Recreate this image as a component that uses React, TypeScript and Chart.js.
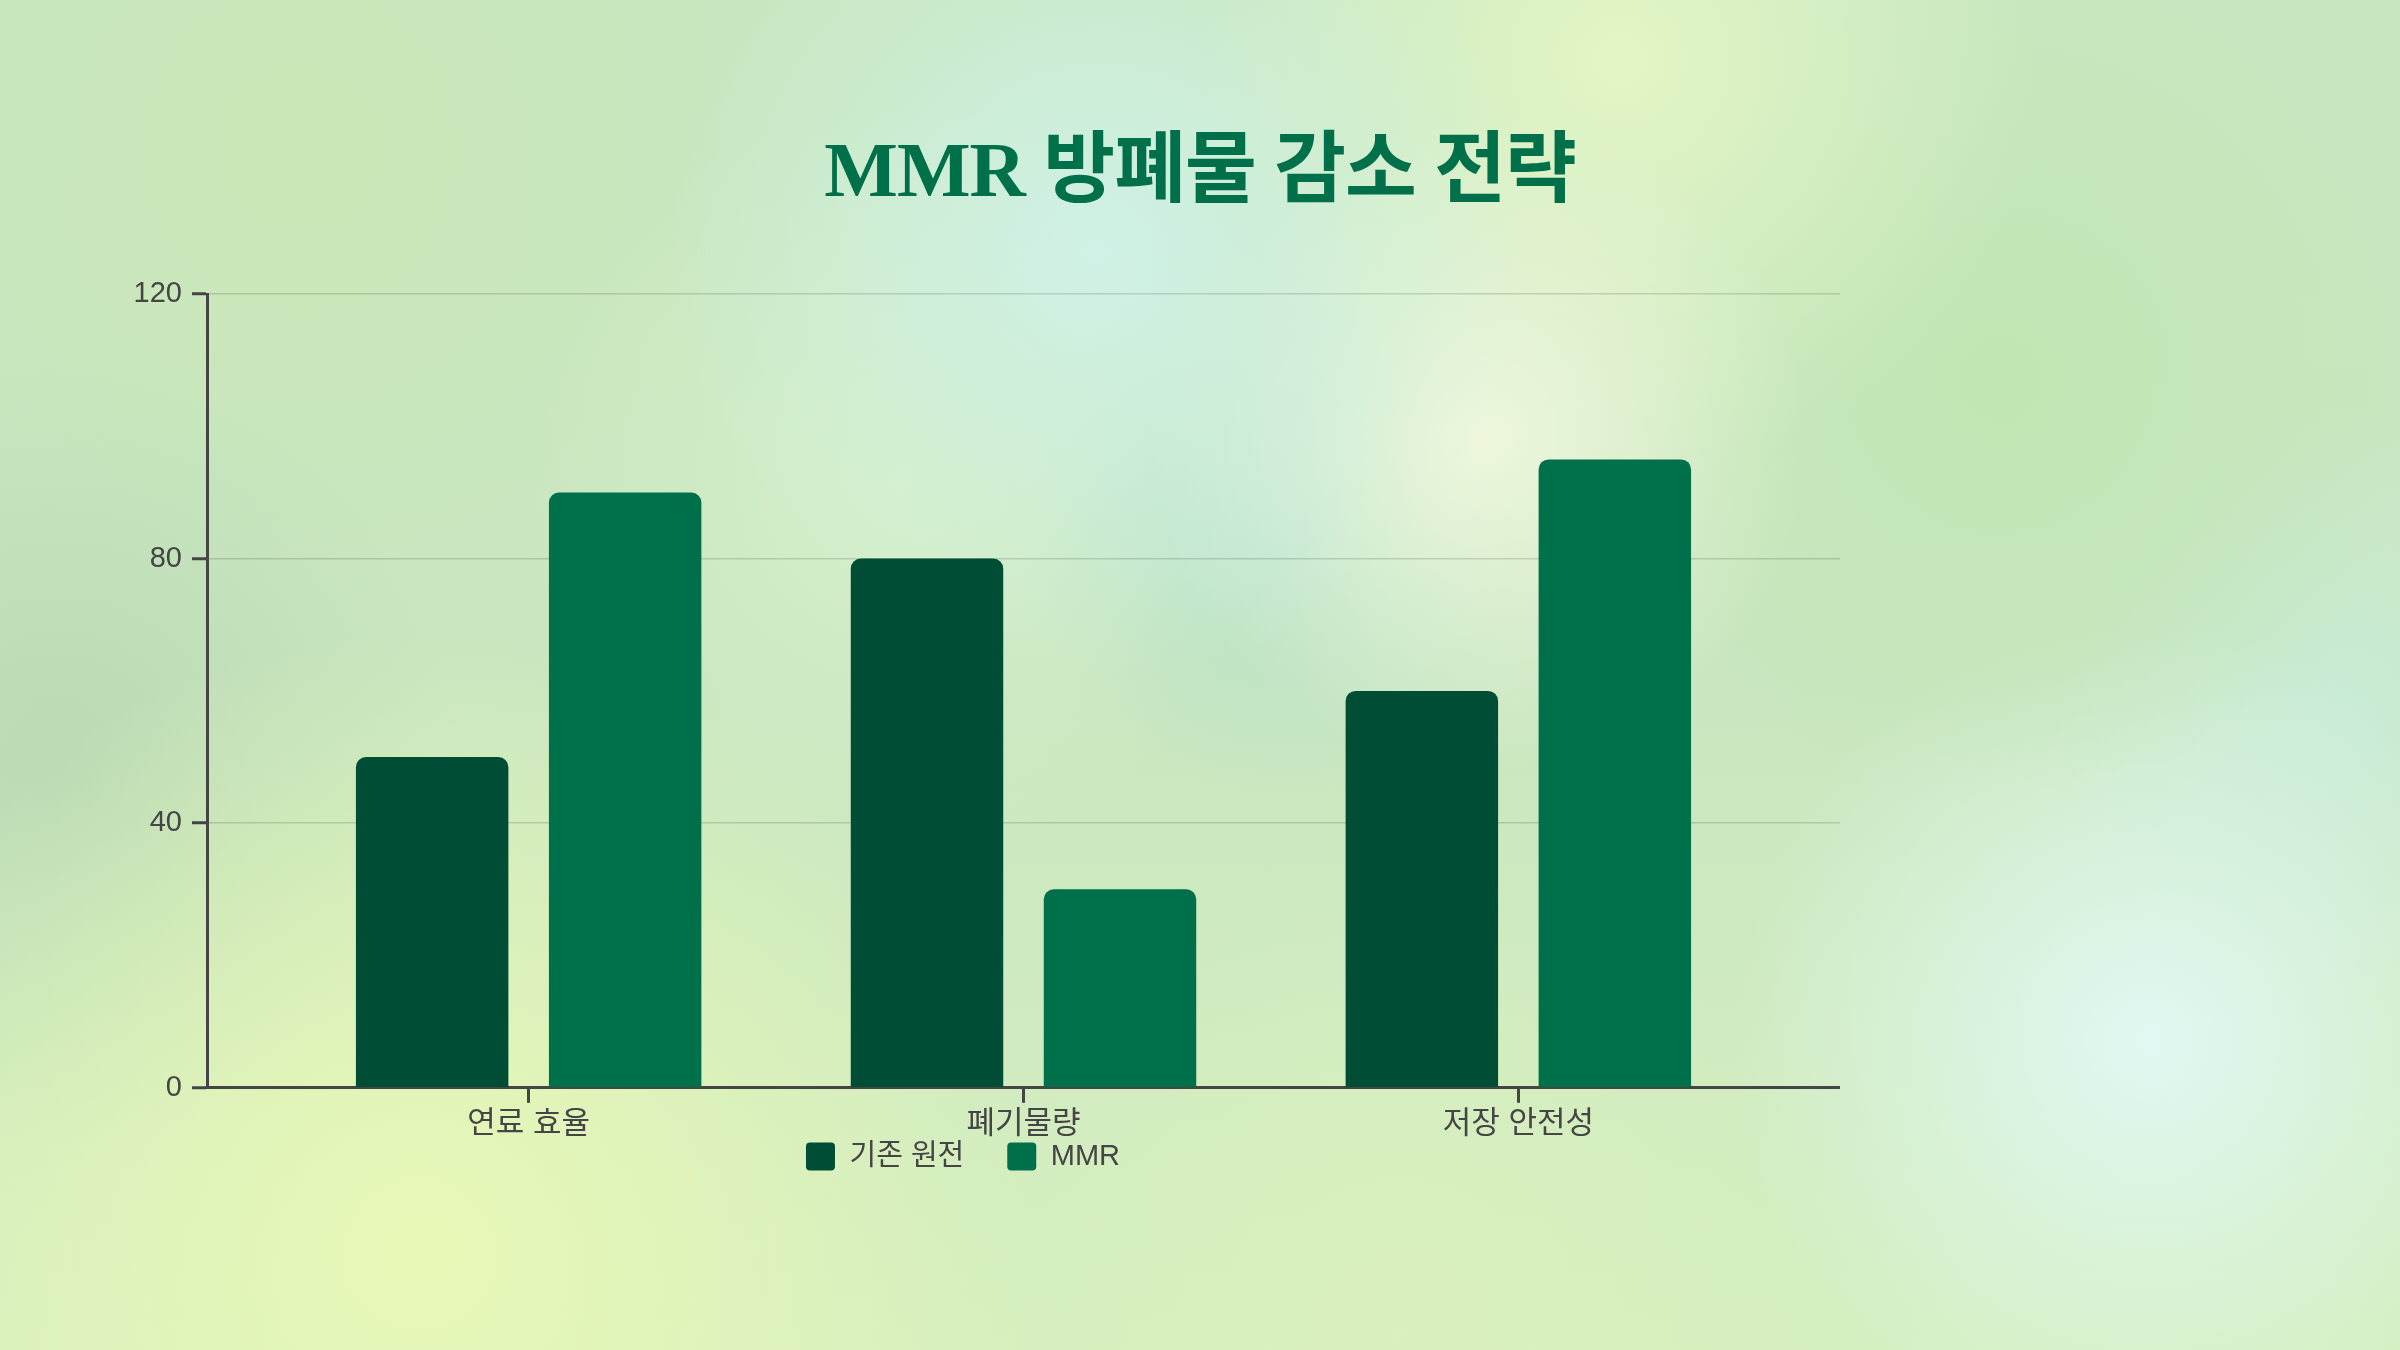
import { useEffect, useRef } from "react";
import { Chart, registerables } from "chart.js";
import type { Plugin } from "chart.js";

Chart.register(...registerables);

const categories = ["연료 효율", "폐기물량", "저장 안전성"];
const seriesNames = ["기존 원전", "MMR"];
const conventionalValues = [50, 80, 60];
const mmrValues = [90, 30, 95];
const yTickValues = [0, 40, 80, 120];

const DARK = "#004D35";
const GREEN = "#00704A";
const AXIS = "#454545";
const FONT = "'Helvetica Neue', Helvetica, Arial, 'Noto Sans CJK KR', sans-serif";

const LEGEND_GAP = 43;

const background = [
  "radial-gradient(circle at 1100px 250px, rgba(208,242,232,0.95) 0, rgba(208,242,232,0) 430px)",
  "radial-gradient(circle at 1480px 440px, rgba(240,248,222,0.95) 0, rgba(240,248,222,0) 330px)",
  "radial-gradient(circle at 1290px 540px, rgba(182,226,202,0.9) 0, rgba(182,226,202,0) 260px)",
  "radial-gradient(circle at 1620px 60px, rgba(228,246,198,0.95) 0, rgba(228,246,198,0) 420px)",
  "radial-gradient(circle at 2000px 380px, rgba(192,230,178,0.95) 0, rgba(192,230,178,0) 420px)",
  "radial-gradient(circle at 2150px 1040px, rgba(224,248,242,1) 0, rgba(224,248,242,0) 420px)",
  "radial-gradient(circle at 420px 1250px, rgba(232,248,182,1) 0, rgba(232,248,182,0) 620px)",
  "radial-gradient(circle at 1400px 1330px, rgba(218,240,190,0.95) 0, rgba(218,240,190,0) 460px)",
  "radial-gradient(circle at 900px 480px, rgba(214,240,202,0.9) 0, rgba(214,240,202,0) 380px)",
  "radial-gradient(circle at 60px 760px, rgba(186,218,180,0.95) 0, rgba(186,218,180,0) 400px)",
  "radial-gradient(circle at 300px 150px, rgba(202,232,182,0.95) 0, rgba(202,232,182,0) 450px)",
  "radial-gradient(circle at 2350px 700px, rgba(200,236,214,0.9) 0, rgba(200,236,214,0) 300px)",
  "linear-gradient(180deg, #c8e7c0 0%, #c9e6c0 50%, #d6efc0 100%)",
].join(", ");

// wide gaps between legend items, but keep the row tucked under the axis labels
const legendLift: Plugin<"bar"> = {
  id: "legendLift",
  afterLayout(chart) {
    if (chart.legend) chart.legend.top -= LEGEND_GAP + 4;
  },
};

export default function App() {
  const canvasRef = useRef<HTMLCanvasElement>(null);
  const chartRef = useRef<Chart | null>(null);

  useEffect(() => {
    if (!canvasRef.current) return;
    const ctx = canvasRef.current.getContext("2d");
    if (!ctx) return;

    if (chartRef.current) {
      chartRef.current.destroy();
      chartRef.current = null;
    }

    chartRef.current = new Chart(ctx, {
      type: "bar",
      data: {
        datasets: [
          {
            label: seriesNames[0],
            data: conventionalValues.map((v, i) => ({ x: i, y: v })),
            backgroundColor: DARK,
            borderWidth: 0,
            borderRadius: 10,
            categoryPercentage: 0.78,
            barPercentage: 0.79,
          },
          {
            label: seriesNames[1],
            data: mmrValues.map((v, i) => ({ x: i, y: v })),
            backgroundColor: GREEN,
            borderWidth: 0,
            borderRadius: 10,
            categoryPercentage: 0.78,
            barPercentage: 0.79,
          },
        ],
      },
      options: {
        responsive: true,
        maintainAspectRatio: false,
        animation: false,
        layout: { padding: { left: 0, top: 44, right: 0, bottom: 0 } },
        plugins: {
          title: { display: false },
          tooltip: { enabled: false },
          legend: {
            position: "bottom",
            labels: {
              color: AXIS,
              font: { family: FONT, size: 29 },
              boxWidth: 29,
              boxHeight: 28,
              useBorderRadius: true,
              borderRadius: 4,
              padding: LEGEND_GAP,
            },
          },
        },
        scales: {
          x: {
            type: "linear",
            min: -0.65,
            max: 2.65,
            offset: false,
            afterBuildTicks: (scale) => {
              scale.ticks = categories.map((_, i) => ({ value: i }));
            },
            grid: {
              display: true,
              offset: false,
              drawOnChartArea: false,
              drawTicks: true,
              tickLength: 15,
              tickColor: AXIS,
              tickWidth: 3,
            },
            border: { display: true, color: AXIS, width: 3 },
            ticks: {
              autoSkip: false,
              maxRotation: 0,
              padding: 3,
              color: AXIS,
              font: { family: FONT, size: 31 },
              callback: (v) => categories[Math.round(Number(v))] ?? "",
            },
          },
          y: {
            min: yTickValues[0],
            max: yTickValues[yTickValues.length - 1],
            afterBuildTicks: (scale) => {
              scale.ticks = yTickValues.map((v) => ({ value: v }));
            },
            afterFit: (scale) => {
              scale.width = 121;
            },
            grid: {
              color: "rgba(0,0,0,0.14)",
              lineWidth: 1.5,
              drawTicks: true,
              tickLength: 15,
              tickColor: AXIS,
              tickWidth: 3,
            },
            border: { display: true, color: AXIS, width: 3 },
            ticks: {
              padding: 10,
              color: AXIS,
              font: { family: FONT, size: 29 },
            },
          },
        },
      },
      plugins: [legendLift],
    });

    return () => {
      chartRef.current?.destroy();
      chartRef.current = null;
    };
  }, []);

  return (
    <div
      style={{
        position: "fixed",
        inset: 0,
        width: 2400,
        height: 1350,
        overflow: "hidden",
        background,
      }}
    >
      <div
        style={{
          position: "absolute",
          left: 0,
          right: 0,
          top: 131,
          textAlign: "center",
          fontFamily: "'Liberation Serif', 'Noto Sans CJK KR', serif",
          fontWeight: 700,
          fontSize: 78,
          lineHeight: 1,
          letterSpacing: -1,
          color: GREEN,
        }}
      >
        MMR 방폐물 감소 전략
      </div>
      <div
        style={{
          position: "absolute",
          left: 86,
          top: 250,
          width: 1754,
          height: 978,
        }}
      >
        <canvas ref={canvasRef} />
      </div>
    </div>
  );
}
